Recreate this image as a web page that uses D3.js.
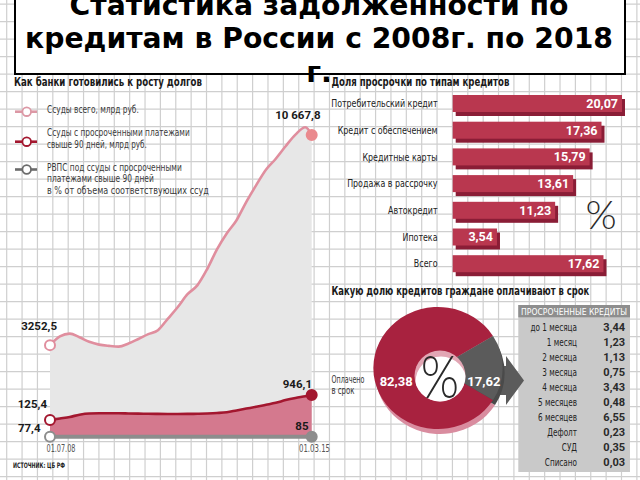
<!DOCTYPE html>
<html><head><meta charset="utf-8">
<script src="https://cdn.jsdelivr.net/npm/d3@7"></script>
<style>
html,body{margin:0;padding:0;background:#fff;}
svg{display:block;}
</style></head><body>
<svg id="c" width="640" height="480"></svg>
<script>
// ---------- DATA ----------
const titleLines = ["Статистика задолженности по", "кредитам в России с 2008г. по 2018", "г."];

const dates = ["2008-07-01","2008-10-01","2009-01-01","2009-04-01","2009-07-01","2009-10-01",
  "2010-01-01","2010-04-01","2010-07-01","2010-10-01","2011-01-01","2011-04-01","2011-07-01",
  "2011-10-01","2012-01-01","2012-04-01","2012-07-01","2012-10-01","2013-01-01","2013-04-01",
  "2013-07-01","2013-10-01","2014-01-01","2014-04-01","2014-07-01","2014-10-01","2015-01-01","2015-03-01"];
const loansTotal = [3252.5,3565,3660,3530,3370,3270,3225,3200,3310,3470,3640,3780,4180,4590,
  5050,5360,5930,6630,7200,7660,8310,8900,9450,9830,10270,10680,10940,10667.8];
const loansOverdue = [125.4,175,225,300,340,345,345,345,340,335,330,325,322,322,
  325,330,340,355,380,440,500,560,625,690,780,850,905,946.1];
const rvpsDates = ["2008-07-01","2015-03-01"];
const rvpsPct = [77.4, 85];
const dateTickLabels = ["01.07.08","01.03.15"];

const legendItems = [
  ["Ссуды всего, млрд руб."],
  ["Ссуды с просроченными платежами","свыше 90 дней, млрд руб."],
  ["РВПС под ссуды с просроченными","платежами свыше 90 дней","в % от объема соответствующих ссуд"]
];

const barCategories = ["Потребительский кредит","Кредит с обеспечением","Кредитные карты",
  "Продажа в рассрочку","Автокредит","Ипотека","Всего"];
const barValues = [20.07,17.36,15.79,13.61,11.23,3.54,17.62];

const donutLabels = ["Оплачено в срок","Просрочено"];
const donutValues = [82.38, 17.62];

const overdueTerms = ["до 1 месяца","1 месяц","2 месяца","3 месяца","4 месяца","5 месяцев",
  "6 месяцев","Дефолт","СУД","Списано"];
const overdueValues = [3.44,1.23,1.13,0.75,3.43,0.48,6.55,0.23,0.35,0.03];

const fmt = v => String(v).replace(".", ",");
const fmtBig = v => {
  const s = v.toFixed(1).replace(".", ",");
  const [a,b] = s.split(",");
  return (a.length > 4 ? a.slice(0,a.length-3) + " " + a.slice(-3) : a) + "," + b;
};

// ---------- SETUP ----------
const W = 640, H = 480;
const svg = d3.select("#c");
const NARROW = "'Liberation Sans Narrow','DejaVu Sans Condensed','Roboto Condensed',sans-serif";
const NUM = "Roboto,'DejaVu Sans',sans-serif";
// squeeze text horizontally (about its anchor x) to a target width or by a factor
function squeeze(node, f) {
  const x0 = +node.getAttribute("x");
  node.setAttribute("transform", `translate(${x0},0) scale(${f},1) translate(${-x0},0)`);
}
function fitW(sel, w) { sel.each(function () { squeeze(this, w / this.getComputedTextLength()); }); return sel; }
function fitF(sel, f) { sel.each(function () { squeeze(this, f); }); return sel; }

svg.append("rect").attr("width", W).attr("height", H).attr("fill", "#fff");

// grid
const grid = svg.append("g");
grid.selectAll("line.v").data(d3.range(0, 42).map(k => 6.7 + 15.37 * k)).join("line")
  .attr("x1", d => d).attr("x2", d => d).attr("y1", 0).attr("y2", H)
  .attr("stroke", "#cfcfcf").attr("stroke-width", 1.2);
grid.selectAll("line.h").data(d3.range(0, 28).map(k => 4.2 + 17.5 * k)).join("line")
  .attr("y1", d => d).attr("y2", d => d).attr("x1", 0).attr("x2", W)
  .attr("stroke", "#cfcfcf").attr("stroke-width", 1.2);

// ---------- LEFT: AREA CHART ----------
const parse = d3.timeParse("%Y-%m-%d");
const dts = dates.map(parse);
const x = d3.scaleTime().domain(d3.extent(dts)).range([50, 311.7]);
const yTotal = d3.scaleLinear().domain([0, 10667.8]).range([437.3, 135]);
const yOver = d3.scaleLinear().domain([125.4, 946.1]).range([420, 395]);
const yPct = d3.scaleLinear().domain([0, 100]).range([437.6, 436.6]);

const L = svg.append("g");
L.append("path").datum(loansTotal)
  .attr("d", d3.area().x((d,i) => x(dts[i])).y0(yTotal(0)).y1(d => yTotal(d)))
  .attr("fill", "#e7e7e7");
L.append("path").datum(loansOverdue)
  .attr("d", d3.area().x((d,i) => x(dts[i])).y0(yTotal(0)).y1(d => yOver(d)))
  .attr("fill", "#d4798e");
L.append("path").datum(loansTotal)
  .attr("d", d3.line().x((d,i) => x(dts[i])).y(d => yTotal(d)).curve(d3.curveMonotoneX))
  .attr("fill", "none").attr("stroke", "#e08e9e").attr("stroke-width", 2.6);
L.append("path").datum(loansOverdue)
  .attr("d", d3.line().x((d,i) => x(dts[i])).y(d => yOver(d)).curve(d3.curveMonotoneX))
  .attr("fill", "none").attr("stroke", "#a3172f").attr("stroke-width", 2.6);
const rv = rvpsDates.map(parse);
L.append("path").datum(rvpsPct)
  .attr("d", d3.line().x((d,i) => x(rv[i])).y(d => yPct(d)))
  .attr("fill", "none").attr("stroke", "#8d8d8d").attr("stroke-width", 4);

// markers
const n = dts.length - 1;
const markers = [
  [x(dts[0]), yTotal(loansTotal[0]), "#fff", "#e08e9e"],
  [x(dts[n]), yTotal(loansTotal[n]), "#ea8a8e", "#ea8a8e"],
  [x(dts[0]), yOver(loansOverdue[0]), "#fff", "#a3172f"],
  [x(dts[n]), yOver(loansOverdue[n]), "#a3172f", "#a3172f"],
  [x(rv[0]), yPct(rvpsPct[0]), "#fff", "#8d8d8d"],
  [x(rv[1]), yPct(rvpsPct[1]), "#8d8d8d", "#8d8d8d"]
];
L.selectAll("circle.m").data(markers).join("circle")
  .attr("cx", d => d[0]).attr("cy", d => d[1]).attr("r", 5)
  .attr("fill", d => d[2]).attr("stroke", d => d[3]).attr("stroke-width", 2);

// value labels
const vlabels = [
  [fmtBig(loansTotal[n]), 320.5, 118.5],
  [fmtBig(loansTotal[0]), 57, 330],
  [fmt(loansOverdue[0]), 47, 408],
  [fmt(rvpsPct[0]), 40.5, 431.5],
  [fmt(loansOverdue[n]), 312, 388],
  [fmt(rvpsPct[1]), 308.5, 429.5]
];
L.selectAll("text.v").data(vlabels).join("text")
  .attr("x", d => d[1]).attr("y", d => d[2]).attr("text-anchor", "end")
  .attr("font-family", NUM).attr("font-weight", 700).attr("font-size", 11.5)
  .attr("fill", "#1a1a1a").text(d => d[0]);

fitW(L.append("text").attr("x", 46.5).attr("y", 452.5).attr("font-family", NARROW)
  .attr("font-size", 10).attr("fill", "#555").text(dateTickLabels[0]), 29);
fitW(L.append("text").attr("x", 330).attr("y", 452.5).attr("text-anchor", "end").attr("font-family", NARROW)
  .attr("font-size", 10).attr("fill", "#555").text(dateTickLabels[1]), 31);
fitW(L.append("text").attr("x", 13).attr("y", 468.5).attr("font-family", NARROW)
  .attr("font-weight", 700).attr("font-size", 7.5).attr("fill", "#222").text("ИСТОЧНИК: ЦБ РФ"), 52);

// header
fitW(L.append("text").attr("x", 14).attr("y", 86).attr("font-family", NARROW).attr("font-weight", 700)
  .attr("font-size", 12).attr("fill", "#1a1a1a").text("Как банки готовились к росту долгов"), 188);

// legend
const legColors = ["#dc98a5", "#a3172f", "#6b6b6b"];
const legMarkY = [111.7, 141.7, 169.5];
const legTextY = [[113.5], [136.5, 148], [171.5, 182.5, 194]];
const legTextW = [[92], [143, 100], [135, 107, 162]];
legendItems.forEach((lines, i) => {
  const g = L.append("g");
  g.append("line").attr("x1", 15).attr("x2", 37).attr("y1", legMarkY[i]).attr("y2", legMarkY[i])
    .attr("stroke", legColors[i]).attr("stroke-width", 2.6);
  g.append("circle").attr("cx", 26.7).attr("cy", legMarkY[i]).attr("r", 4.3)
    .attr("fill", "#fff").attr("stroke", legColors[i]).attr("stroke-width", 1.8);
  lines.forEach((t, j) => fitW(g.append("text").attr("x", 47).attr("y", legTextY[i][j])
    .attr("font-family", NARROW).attr("font-size", 10).attr("fill", "#3a3a3a").text(t), legTextW[i][j]));
});

// ---------- RIGHT TOP: BARS ----------
const R = svg.append("g");
R.append("rect").attr("x", 326).attr("y", 79).attr("width", 3).attr("height", 3).attr("fill", "#111");
fitW(R.append("text").attr("x", 331.5).attr("y", 86).attr("font-family", NARROW).attr("font-weight", 700)
  .attr("font-size", 12).attr("fill", "#1a1a1a").text("Доля просрочки по типам кредитов"), 178);

const xBar = d3.scaleLinear().domain([0, 20.07]).range([470.2, 622]);
const barX0 = 452.7;
const yBar = d3.scaleBand().domain(barCategories).range([95, 95 + 26.7 * barCategories.length]);
const faceH = 17;
const bars = R.selectAll("g.bar").data(barCategories.map((c, i) => ({c, v: barValues[i]}))).join("g");
bars.append("rect").attr("x", barX0 + 3).attr("y", d => yBar(d.c) + 4)
  .attr("width", d => xBar(d.v) - barX0).attr("height", faceH).attr("fill", "#8a1d36");
bars.append("rect").attr("x", barX0).attr("y", d => yBar(d.c))
  .attr("width", d => xBar(d.v) - barX0).attr("height", faceH).attr("fill", "#b9374f");
bars.append("text").attr("x", d => xBar(d.v) - 4).attr("y", d => yBar(d.c) + faceH / 2 + 4.4)
  .attr("text-anchor", "end").attr("font-family", NUM).attr("font-weight", 700).attr("font-size", 12.5)
  .attr("fill", "#fff").text(d => fmt(d.v.toFixed(2)));
fitF(bars.append("text").attr("x", 437.5).attr("y", d => yBar(d.c) + faceH / 2 + 3.8)
  .attr("text-anchor", "end").attr("font-family", NARROW).attr("font-size", 11)
  .attr("fill", "#222").text(d => d.c), 0.8);
R.append("text").attr("x", 601).attr("y", 229).attr("text-anchor", "middle")
  .attr("font-family", "Lato,Roboto,sans-serif").attr("font-weight", 300).attr("font-size", 40)
  .attr("fill", "#2a2a2a").text("%");

// ---------- RIGHT BOTTOM: DONUT + TABLE ----------
const D = svg.append("g");
fitW(D.append("text").attr("x", 331.5).attr("y", 295.5).attr("font-family", NARROW).attr("font-weight", 700)
  .attr("font-size", 12).attr("fill", "#1a1a1a").text("Какую долю кредитов граждане оплачивают в срок"), 258);

const cx = 438, cy = 368, rOut = 61, sx = 1.06;
const grayShare = donutValues[1] / d3.sum(donutValues);
const startA = Math.PI / 2 + grayShare * Math.PI - 2 * Math.PI;
const pie = d3.pie().sort(null).startAngle(startA).endAngle(startA + 2 * Math.PI);
const arcs = pie(donutValues);
const arcGen = d3.arc().innerRadius(0).outerRadius(rOut);
const sliceColors = ["#a8223f", "#5b5b5b"];
const sideColors = ["#d98c9f", "#4a4a4a"];

// table
const T = svg.append("g");
T.append("rect").attr("x", 518.3).attr("y", 305).attr("width", 111.7).attr("height", 167).attr("fill", "#c9c9c9");
T.append("rect").attr("x", 518.3).attr("y", 305).attr("width", 111.7).attr("height", 12.3).attr("fill", "#8e8e8e");
fitW(T.append("text").attr("x", 574).attr("y", 314.8).attr("text-anchor", "middle").attr("font-family", NARROW)
  .attr("font-size", 9.5).attr("fill", "#fff").text("ПРОСРОЧЕННЫЕ КРЕДИТЫ"), 106);
const yRow = d3.scaleBand().domain(overdueTerms).range([320, 469.4]);
fitF(T.selectAll("text.tl").data(overdueTerms).join("text")
  .attr("x", 577).attr("y", d => yRow(d) + yRow.bandwidth() / 2 + 3.7).attr("text-anchor", "end")
  .attr("font-family", NARROW).attr("font-size", 10.5).attr("fill", "#222").text(d => d), 0.77);
T.selectAll("text.tv").data(overdueValues).join("text")
  .attr("x", 625).attr("y", (d, i) => yRow(overdueTerms[i]) + yRow.bandwidth() / 2 + 4).attr("text-anchor", "end")
  .attr("font-family", NUM).attr("font-weight", 700).attr("font-size", 11).attr("fill", "#2a2a2a")
  .text(d => fmt(d.toFixed(2)));

// arrow from grey slice to the table
const aStart = cx + rOut * 0.75, shaftEnd = 506, tip = 524;
D.append("path").attr("d", d3.line()([
  [aStart, cy - 2], [shaftEnd, cy - 2], [shaftEnd, cy - 12], [tip, cy + 12.5],
  [shaftEnd, cy + 37], [shaftEnd, cy + 27], [aStart, cy + 27]]) + "Z")
  .attr("fill", "#5b5b5b");
D.raise();

const sideG = D.append("g").attr("transform", `translate(${cx + 2},${cy + 5}) scale(${sx},1)`);
sideG.selectAll("path").data(arcs).join("path").attr("d", arcGen).attr("fill", (d, i) => sideColors[i]);
const faceG = D.append("g").attr("transform", `translate(${cx},${cy}) scale(${sx},1)`);
faceG.selectAll("path").data(arcs).join("path").attr("d", arcGen).attr("fill", (d, i) => sliceColors[i]);

// hole with inner wall
const hx = 440, hy = 376, hr = 25.5;
D.append("clipPath").attr("id", "holeClip").append("circle").attr("cx", hx).attr("cy", hy).attr("r", hr);
D.append("circle").attr("cx", hx).attr("cy", hy).attr("r", hr).attr("fill", "#e2a6b4");
D.append("circle").attr("cx", hx + 1).attr("cy", hy + 6).attr("r", hr).attr("fill", "#fff")
  .attr("clip-path", "url(#holeClip)");
fitF(D.append("text").attr("x", hx).attr("y", hy + 22).attr("text-anchor", "middle")
  .attr("font-family", "Lato,Roboto,sans-serif").attr("font-weight", 300).attr("font-size", 60)
  .attr("fill", "#2a2a2a").text("%"), 0.82);

// donut value labels
const labArc = d3.arc().innerRadius(hr).outerRadius(rOut);
D.selectAll("text.dl").data(arcs).join("text")
  .attr("x", d => cx + labArc.centroid(d)[0] * sx + (d.index === 0 ? 4 : 0))
  .attr("y", d => cy + labArc.centroid(d)[1] + 18)
  .attr("text-anchor", "middle").attr("font-family", NUM).attr("font-weight", 700)
  .attr("font-size", 13).attr("fill", "#fff").text(d => fmt(d.data));

fitW(D.append("text").attr("x", 331.5).attr("y", 383.5).attr("font-family", NARROW).attr("font-size", 10)
  .attr("fill", "#333").text("Оплачено"), 33);
fitW(D.append("text").attr("x", 331.5).attr("y", 394.5).attr("font-family", NARROW).attr("font-size", 10)
  .attr("fill", "#333").text("в срок"), 23);

// ---------- TITLE ----------
const TT = svg.append("g");
TT.append("rect").attr("x", 15).attr("y", -5).attr("width", 610).attr("height", 79)
  .attr("fill", "#fff").attr("stroke", "#000").attr("stroke-width", 2);
const baseY = [14.8, 48.3, 82];
const tl = TT.selectAll("text.t").data(titleLines).join("text")
  .attr("x", 319).attr("y", (d, i) => baseY[i]).attr("text-anchor", "middle")
  .attr("font-family", "'DejaVu Sans',sans-serif").attr("font-weight", 700).attr("font-size", 28)
  .attr("fill", "#000").text(d => d);
const w2 = tl.nodes()[1].getComputedTextLength();
const fs = 28 * 588 / w2;
tl.attr("font-size", fs);
</script>
</body></html>
